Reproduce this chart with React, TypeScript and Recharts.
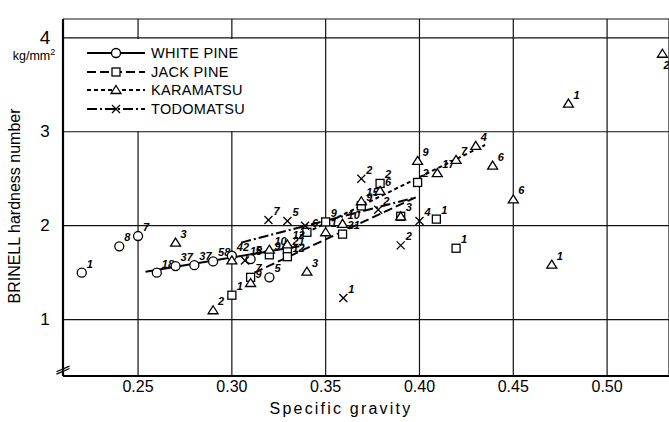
import React from "react";
import {
  ScatterChart,
  Scatter,
  XAxis,
  YAxis,
  CartesianGrid,
  ReferenceLine,
} from "recharts";

// specific gravity (sg), Brinell hardness (hb), sample count (n)
type Pt = { sg: number; hb: number; n: string };

const X_TICKS = [0.25, 0.3, 0.35, 0.4, 0.45, 0.5];
const Y_TICKS = [1, 2, 3, 4];

const SERIES_NAMES = ["WHITE PINE", "JACK PINE", "KARAMATSU", "TODOMATSU"];

const whitePine: Pt[] = [
  { sg: 0.22, hb: 1.5, n: "1" },
  { sg: 0.24, hb: 1.78, n: "8" },
  { sg: 0.25, hb: 1.89, n: "7" },
  { sg: 0.26, hb: 1.5, n: "18" },
  { sg: 0.27, hb: 1.57, n: "37" },
  { sg: 0.28, hb: 1.58, n: "37" },
  { sg: 0.29, hb: 1.62, n: "58" },
  { sg: 0.3, hb: 1.68, n: "42" },
  { sg: 0.31, hb: 1.645, n: "5" },
  { sg: 0.32, hb: 1.45, n: "5" },
];

const jackPine: Pt[] = [
  { sg: 0.3, hb: 1.26, n: "1" },
  { sg: 0.31, hb: 1.45, n: "7" },
  { sg: 0.32, hb: 1.69, n: "9" },
  { sg: 0.3296, hb: 1.745, n: "21" },
  { sg: 0.3296, hb: 1.67, n: "12" },
  { sg: 0.34, hb: 1.93, n: "6" },
  { sg: 0.35, hb: 2.04, n: "9" },
  { sg: 0.359, hb: 1.91, n: "21" },
  { sg: 0.369, hb: 2.21, n: "9" },
  { sg: 0.379, hb: 2.45, n: "2" },
  { sg: 0.39, hb: 2.1, n: "3" },
  { sg: 0.399, hb: 2.46, n: "2" },
  { sg: 0.409, hb: 2.07, n: "1" },
  { sg: 0.4195, hb: 1.76, n: "1" },
];

const karamatsu: Pt[] = [
  { sg: 0.27, hb: 1.82, n: "3" },
  { sg: 0.29, hb: 1.1, n: "2" },
  { sg: 0.3, hb: 1.63, n: "" },
  { sg: 0.31, hb: 1.39, n: "9" },
  { sg: 0.32, hb: 1.745, n: "10" },
  { sg: 0.3296, hb: 1.8, n: "12" },
  { sg: 0.34, hb: 1.51, n: "3" },
  { sg: 0.35, hb: 1.93, n: "1" },
  { sg: 0.359, hb: 2.02, n: "10" },
  { sg: 0.369, hb: 2.26, n: "15" },
  { sg: 0.379, hb: 2.37, n: "6" },
  { sg: 0.39, hb: 2.1, n: "" },
  { sg: 0.399, hb: 2.69, n: "9" },
  { sg: 0.4095, hb: 2.56, n: "17" },
  { sg: 0.4195, hb: 2.7, n: "7" },
  { sg: 0.43, hb: 2.85, n: "4" },
  { sg: 0.439, hb: 2.64, n: "6" },
  { sg: 0.45, hb: 2.28, n: "6" },
  { sg: 0.4705, hb: 1.585, n: "1" },
  { sg: 0.4794, hb: 3.3, n: "1" },
  { sg: 0.5295, hb: 3.83, n: "2" },
];

const todomatsu: Pt[] = [
  { sg: 0.307, hb: 1.63, n: "18" },
  { sg: 0.3195, hb: 2.06, n: "7" },
  { sg: 0.3296, hb: 2.05, n: "5" },
  { sg: 0.339, hb: 2.0, n: "" },
  { sg: 0.3594, hb: 1.23, n: "1" },
  { sg: 0.369, hb: 2.5, n: "2" },
  { sg: 0.378, hb: 2.17, n: "2" },
  { sg: 0.39, hb: 1.79, n: "2" },
  { sg: 0.4, hb: 2.05, n: "4" },
];

// fitted lines, end points
const whitePineFit = [
  { sg: 0.254, hb: 1.51 },
  { sg: 0.336, hb: 1.78 },
];
const jackPineFit = [
  { sg: 0.312, hb: 1.5 },
  { sg: 0.4, hb: 2.32 },
];
const karamatsuFit = [
  { sg: 0.333, hb: 1.86 },
  { sg: 0.435, hb: 2.86 },
];
const todomatsuFit = [
  { sg: 0.305, hb: 1.82 },
  { sg: 0.398, hb: 2.3 },
];

const FONT = "'Liberation Sans', Arial, sans-serif";
const DASH = ["", "9 4", "4 3", "10 3 2 3"];

// count label: upper right of the mark, under it near the right edge
const countLabel = (cx: number, cy: number, n?: string) => {
  if (!n) return null;
  const atEdge = cx > 650;
  return (
    <text
      x={atEdge ? cx + 1 : cx + 5}
      y={atEdge ? cy + 15 : cy - 5}
      fontSize={11}
      fontStyle="italic"
      fontWeight="bold"
      fontFamily={FONT}
      fill="#000"
    >
      {n}
    </text>
  );
};

const circleMark = (cx: number, cy: number) => (
  <circle cx={cx} cy={cy} r={4.5} fill="#fff" stroke="#000" strokeWidth={1.3} />
);
const squareMark = (cx: number, cy: number) => (
  <rect x={cx - 4} y={cy - 4} width={8} height={8} fill="#fff" stroke="#000" strokeWidth={1.3} />
);
const triangleMark = (cx: number, cy: number) => (
  <polygon
    points={`${cx},${cy - 4.5} ${cx + 5},${cy + 3.5} ${cx - 5},${cy + 3.5}`}
    fill="#fff"
    stroke="#000"
    strokeWidth={1.3}
  />
);
const crossMark = (cx: number, cy: number) => (
  <g stroke="#000" strokeWidth={1.3}>
    <line x1={cx - 4} y1={cy - 4} x2={cx + 4} y2={cy + 4} />
    <line x1={cx - 4} y1={cy + 4} x2={cx + 4} y2={cy - 4} />
  </g>
);
const MARKS = [circleMark, squareMark, triangleMark, crossMark];

const makeShape = (i: number) => (p: any) => (
  <g>
    {MARKS[i](p.cx, p.cy)}
    {countLabel(p.cx, p.cy, p.payload?.n)}
  </g>
);

const noShape = () => <g />;

const XTick = (p: any) => (
  <text x={p.x} y={392} textAnchor="middle" fontSize={16} fontFamily={FONT} fill="#000">
    {Number(p.payload.value).toFixed(2)}
  </text>
);

const YTick = (p: any) => {
  const v = p.payload.value;
  return (
    <g>
      <text
        x={45}
        y={p.y}
        textAnchor="middle"
        dominantBaseline="central"
        fontSize={v === 4 ? 19 : 17}
        fontFamily={FONT}
        fill="#000"
      >
        {v}
      </text>
      {v === 4 && (
        <text x={34} y={60} textAnchor="middle" fontSize={12.5} fontFamily={FONT} fill="#000">
          kg/mm<tspan dy={-5} fontSize={9}>2</tspan>
        </text>
      )}
    </g>
  );
};

const YTitle = () => (
  <text
    x={20}
    y={206}
    transform="rotate(-90 20 206)"
    textAnchor="middle"
    fontSize={16}
    fontFamily={FONT}
    fill="#000"
  >
    BRINELL hardness number
  </text>
);

const XTitle = () => (
  <text
    x={341}
    y={414}
    textAnchor="middle"
    fontSize={16}
    letterSpacing={2.2}
    fontFamily={FONT}
    fill="#000"
  >
    Specific gravity
  </text>
);

const LegendBox: React.FC = () => (
  <div
    style={{
      position: "absolute",
      left: 65,
      top: 39,
      width: 176,
      height: 92,
      background: "#fff",
      fontFamily: FONT,
      paddingTop: 5,
      boxSizing: "border-box",
    }}
  >
    {SERIES_NAMES.map((name, i) => (
      <div key={name} style={{ display: "flex", alignItems: "center", height: 18.5 }}>
        <svg width={86} height={16} style={{ flex: "none" }}>
          <line
            x1={22}
            y1={8}
            x2={80}
            y2={8}
            stroke="#000"
            strokeWidth={2}
            strokeDasharray={DASH[i] || undefined}
          />
          {MARKS[i](51, 8)}
        </svg>
        <span style={{ fontSize: 14.5, letterSpacing: 0.3, lineHeight: "16px" }}>{name}</span>
      </div>
    ))}
  </div>
);

const fits = [whitePineFit, jackPineFit, karamatsuFit, todomatsuFit];
const series = [whitePine, jackPine, karamatsu, todomatsu];

export default function App() {
  return (
    <div style={{ position: "absolute", left: 0, top: 0, width: 669, height: 422, background: "#fff" }}>
      <ScatterChart width={669} height={422} margin={{ top: 19, right: 0, left: 0, bottom: 0 }}>
        <CartesianGrid stroke="#111" strokeWidth={1.2} />
        <XAxis
          type="number"
          dataKey="sg"
          domain={[0.21, 0.533]}
          ticks={X_TICKS}
          allowDataOverflow
          height={46}
          axisLine={{ stroke: "#000", strokeWidth: 2.2 }}
          tickLine={false}
          tick={<XTick />}
          label={<XTitle />}
        />
        <YAxis
          type="number"
          dataKey="hb"
          domain={[0.4, 4.2]}
          ticks={Y_TICKS}
          allowDataOverflow
          width={63}
          axisLine={{ stroke: "#000", strokeWidth: 2.2 }}
          tickLine={false}
          tick={<YTick />}
          label={<YTitle />}
        />
        <ReferenceLine
          segment={[
            { x: 0.2065, y: 0.445 },
            { x: 0.2135, y: 0.505 },
          ]}
          stroke="#000"
          strokeWidth={1.3}
          ifOverflow="visible"
        />
        <ReferenceLine
          segment={[
            { x: 0.2065, y: 0.42 },
            { x: 0.2135, y: 0.48 },
          ]}
          stroke="#000"
          strokeWidth={1.3}
          ifOverflow="visible"
        />
        {fits.map((d, i) => (
          <Scatter
            key={"fit" + i}
            data={d}
            line={{ stroke: "#000", strokeWidth: 2, strokeDasharray: DASH[i] || undefined }}
            shape={noShape}
            legendType="none"
            isAnimationActive={false}
          />
        ))}
        {series.map((d, i) => (
          <Scatter
            key={SERIES_NAMES[i]}
            name={SERIES_NAMES[i]}
            data={d}
            shape={makeShape(i)}
            isAnimationActive={false}
          />
        ))}
      </ScatterChart>
      <LegendBox />
    </div>
  );
}
